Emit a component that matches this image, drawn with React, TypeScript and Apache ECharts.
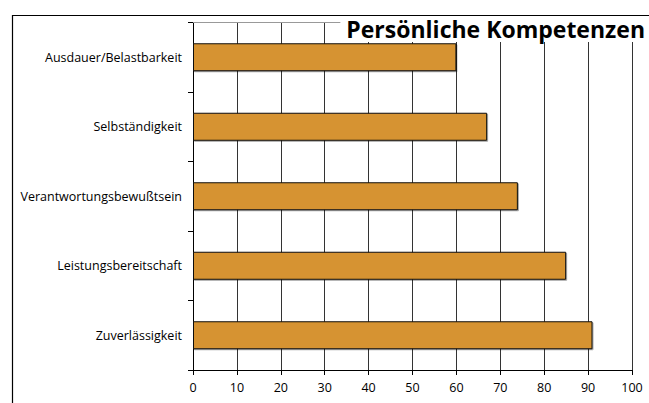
import React, { useEffect, useRef } from "react";
import * as echarts from "echarts";

const categories = [
  "Zuverlässigkeit",
  "Leistungsbereitschaft",
  "Verantwortungsbewußtsein",
  "Selbständigkeit",
  "Ausdauer/Belastbarkeit",
];
const values = [91, 85, 74, 67, 60];
const titleText = "Persönliche Kompetenzen";
const xMin = 0;
const xMax = 100;
const xInterval = 10;

export default function App() {
  const ref = useRef<HTMLDivElement>(null);
  useEffect(() => {
    document.body.style.margin = "0";
    const chart = echarts.init(ref.current!, null, { renderer: "svg" });
    const font = "'Open Sans', 'Noto Sans', sans-serif";
    chart.setOption({
      animation: false,
      backgroundColor: "#fff",
      textStyle: { fontFamily: font },
      grid: { left: 193, right: 17, top: 22.5, bottom: 33, containLabel: false },
      title: {
        text: titleText,
        right: 0,
        top: 15,
        backgroundColor: "#fff",
        padding: [1, 4, 0, 6],
        z: 10,
        textStyle: {
          fontFamily: font,
          fontWeight: "bold",
          fontSize: 23,
          lineHeight: 26,
          color: "#000",
        },
      },
      xAxis: {
        type: "value",
        min: xMin,
        max: xMax,
        interval: xInterval,
        axisLine: { show: true, lineStyle: { color: "#000", width: 1 } },
        axisTick: { show: true, length: 5, lineStyle: { color: "#000" } },
        axisLabel: { color: "#000", fontSize: 12.5, margin: 11, fontFamily: font },
        splitLine: { show: true, lineStyle: { color: "#333", width: 1 } },
      },
      yAxis: {
        type: "category",
        data: categories,
        axisLine: { show: true, lineStyle: { color: "#000", width: 1 } },
        axisTick: { show: true, length: 5, inside: false, lineStyle: { color: "#000" } },
        axisLabel: { color: "#000", fontSize: 12.5, margin: 11, fontFamily: font },
        splitLine: { show: false },
      },
      series: [
        {
          type: "bar",
          data: values,
          barWidth: 28,
          itemStyle: {
            color: "#D69330",
            borderColor: "#111",
            borderWidth: 1,
            shadowColor: "rgba(0,0,0,0.35)",
            shadowOffsetX: 1,
            shadowOffsetY: 1,
            shadowBlur: 0,
          },
        },
      ],
      graphic: [
        {
          type: "line",
          shape: { x1: 193, y1: 22.5, x2: 632, y2: 22.5 },
          style: { stroke: "#999", lineWidth: 1 },
          z: 1,
        },
        {
          type: "line",
          shape: { x1: 12, y1: 15.5, x2: 649, y2: 15.5 },
          style: { stroke: "#000", lineWidth: 1.2 },
          z: 20,
        },
        {
          type: "line",
          shape: { x1: 12.5, y1: 15, x2: 12.5, y2: 403 },
          style: { stroke: "#000", lineWidth: 1.2 },
          z: 20,
        },
      ],
    });
    return () => chart.dispose();
  }, []);
  return <div ref={ref} style={{ width: 649, height: 403 }} />;
}
